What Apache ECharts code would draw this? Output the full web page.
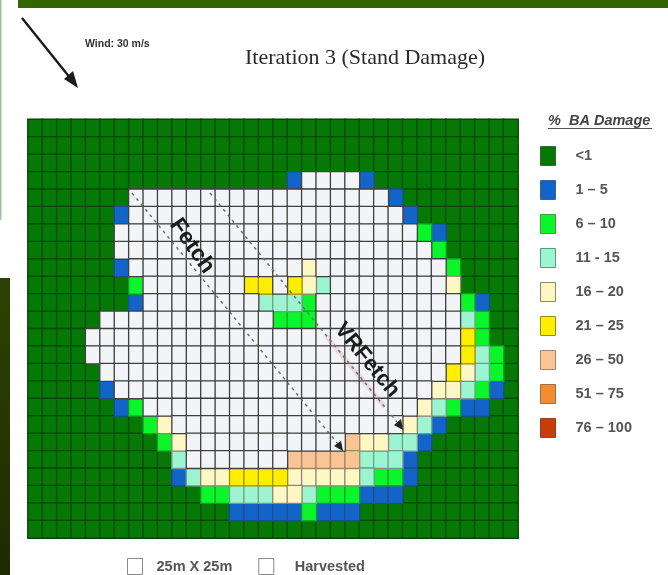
<!DOCTYPE html>
<html><head><meta charset="utf-8">
<style>html,body{margin:0;padding:0;background:#fff}#c{width:668px;height:575px;filter:blur(0.5px)}</style>
<script src="https://cdn.jsdelivr.net/npm/echarts@6/dist/echarts.min.js"></script>
</head><body><div id="c"></div>
<script>
// Damage class of each 25m cell, one string per row, one letter per column.
// . harvested, D <1, B 1-5, G 6-10, M 11-15, P 16-20, Y 21-25, S 26-50, O 51-75, R 76-100
const cellRows = [
"DDDDDDDDDDDDDDDDDDDDDDDDDDDDDDDDDD",
"DDDDDDDDDDDDDDDDDDDDDDDDDDDDDDDDDD",
"DDDDDDDDDDDDDDDDDDDDDDDDDDDDDDDDDD",
"DDDDDDDDDDDDDDDDDDB....BDDDDDDDDDD",
"DDDDDDD..................BDDDDDDDD",
"DDDDDDB...................BDDDDDDD",
"DDDDDD.....................GBDDDDD",
"DDDDDD......................GDDDDD",
"DDDDDDB............P.........GDDDD",
"DDDDDDDG.......YY.YPM........PDDDD",
"DDDDDDDB........MMMG..........GBDD",
"DDDDD............GGG..........MGDD",
"DDDD..........................YGDD",
"DDDD..........................YMGD",
"DDDDD........................YPMGD",
"DDDDDB......................PPMGBD",
"DDDDDDBG...................PMGBBDD",
"DDDDDDDDGP................PMBDDDDD",
"DDDDDDDDDGP...........SPPMMBDDDDDD",
"DDDDDDDDDDM.......SSSSSMMMBDDDDDDD",
"DDDDDDDDDDBMPPYYYYPPPPPMGGBDDDDDDD",
"DDDDDDDDDDDDGGMMMPPMGGGBBBDDDDDDDD",
"DDDDDDDDDDDDDDBBBBBGBBBDDDDDDDDDDD",
"DDDDDDDDDDDDDDDDDDDDDDDDDDDDDDDDDD"
];
const classCodes  = ["D","B","G","M","P","Y","S","O","R","."];
const classLabels = ["<1","1 – 5","6 – 10","11 - 15","16 – 20","21 – 25","26 – 50","51 – 75","76 – 100","Harvested"];
const classColors = ["#067806","#1264c8","#0af52a","#9cf5d0","#fff8c4","#ffee00","#fcc494","#f68c30","#c83c08","#f3f4f7"];
const lineColors  = ["#034a03","#1a4f88","#149a28","#6fa08c","#8a8776","#9a9200","#a08468","#9a6a30","#802e08","#404040"];
const swatchEdges = ["#2f6b2f","#35648f","#3f9f3f","#4f9f7f","#8a8a5a","#8f8f10","#9f8a70","#9f6f3f","#8f3f1f","#8a8a8a"];
const sizeLabel = "25m X 25m";
const columnNames = cellRows[0].split("").map((_, i) => String(i));
const rowNames = cellRows.map((_, i) => String(i));

const chart = echarts.init(document.getElementById("c"), null, {renderer:"canvas"});

function cellsOf(code, idx){
  const out = [];
  cellRows.forEach((row, r) => row.split("").forEach((ch, c) => { if (ch === code) out.push([c, r, idx]); }));
  return out;
}
const series = classCodes.map((code, i) => ({
  type:"heatmap", name:classLabels[i], data:cellsOf(code, i), progressive:0, animation:false,
  itemStyle:{borderColor:lineColors[i], borderWidth:1.3}, emphasis:{disabled:true}
}));
series.push({type:"heatmap", name:sizeLabel, data:[], animation:false});

const legendFont = {fontFamily:"Liberation Sans", fontSize:14.5, fontWeight:"bold", color:"#555555"};
const dashed = {stroke:"#6f6f6f", lineWidth:1.5, lineDash:[3,4]};

chart.setOption({
  animation:false,
  backgroundColor:"#ffffff",
  title:{text:"Iteration 3 (Stand Damage)", left:240, top:42,
    textStyle:{fontFamily:"Liberation Serif", fontSize:22, fontWeight:"normal", color:"#2a2a2a"}},
  grid:{left:28, top:119.5, width:490, height:418.5, show:false},
  xAxis:{type:"category", data:columnNames, show:false},
  yAxis:{type:"category", data:rowNames, inverse:true, show:false},
  visualMap:{show:false, type:"piecewise", dimension:2, seriesIndex:classCodes.map((_, i) => i),
    pieces:classColors.map((color, i) => ({value:i, color}))},
  legend:[
    {orient:"vertical", left:535, top:141, itemWidth:15, itemHeight:19, itemGap:14, selectedMode:false, icon:"rect",
     textStyle:Object.assign({padding:[0,0,0,15]}, legendFont),
     data:classLabels.slice(0,9).map((name,i)=>({name, itemStyle:{color:classColors[i], borderColor:swatchEdges[i], borderWidth:1}}))},
    {orient:"horizontal", left:122, top:553, itemWidth:15, itemHeight:16, itemGap:26, selectedMode:false, icon:"rect",
     textStyle:Object.assign({padding:[0,0,0,9]}, legendFont),
     data:[sizeLabel,"Harvested"].map((name,i)=>({name, textStyle:{padding:[0,0,0,i?16:9]}, itemStyle:{color:"#ffffff", borderColor:"#8a8a8a", borderWidth:1}}))}
  ],
  series,
  graphic:[
    {type:"rect", z:100, shape:{x:18,y:0,width:650,height:8}, style:{fill:"#336600"}, silent:true},
    {type:"rect", z:100, shape:{x:0,y:0,width:1.5,height:220}, style:{fill:"#9cc49c"}, silent:true},
    {type:"rect", z:100, shape:{x:0,y:278,width:10,height:297}, silent:true,
      style:{fill:new echarts.graphic.LinearGradient(0,0,0,1,[{offset:0,color:"#2d4200"},{offset:1,color:"#1e2c00"}])}},
    {type:"line", z:100, shape:{x1:22,y1:18,x2:75,y2:84}, style:{stroke:"#1a1a1a", lineWidth:2.4}, silent:true},
    {type:"polygon", z:100, shape:{points:[[78,88],[64,79],[73,71]]}, style:{fill:"#1a1a1a"}, silent:true},
    {type:"text", z:100, x:85, y:39, style:{text:"Wind: 30 m/s", fontFamily:"Liberation Sans", fontSize:10.5, fontWeight:"bold", fill:"#333"}, silent:true},
    {type:"text", z:100, x:548, y:113, style:{text:"%  BA Damage", fontFamily:"Liberation Sans", fontSize:14.5, fontWeight:"bold", fontStyle:"italic", fill:"#444"}, silent:true},
    {type:"line", z:100, shape:{x1:548,y1:128.5,x2:652,y2:128.5}, style:{stroke:"#555", lineWidth:1}, silent:true},
    {type:"line", z:101, shape:{x1:325,y1:335,x2:385,y2:407}, style:{stroke:"rgba(205,120,140,0.2)", lineWidth:5}, silent:true},
    {type:"line", z:101, shape:{x1:132,y1:193,x2:338,y2:444}, style:dashed, silent:true},
    {type:"polygon", z:101, shape:{points:[[343,451],[334,446],[341,441]]}, style:{fill:"#222"}, silent:true},
    {type:"line", z:101, shape:{x1:210,y1:193,x2:397,y2:422}, style:dashed, silent:true},
    {type:"polygon", z:101, shape:{points:[[403,430],[394,425],[401,419]]}, style:{fill:"#222"}, silent:true},
    {type:"text", z:102, x:192, y:246, rotation:-0.96, style:{text:"Fetch", fontFamily:"Liberation Sans", fontSize:23, fontWeight:"bold", fill:"#1c1c1c", align:"center", verticalAlign:"middle"}, silent:true},
    {type:"text", z:102, x:367, y:360, rotation:-0.88, style:{text:"VRFetch", fontFamily:"Liberation Sans", fontSize:22, fontWeight:"bold", fill:"#1c1c1c", align:"center", verticalAlign:"middle"}, silent:true}
  ]
});
</script></body></html>
